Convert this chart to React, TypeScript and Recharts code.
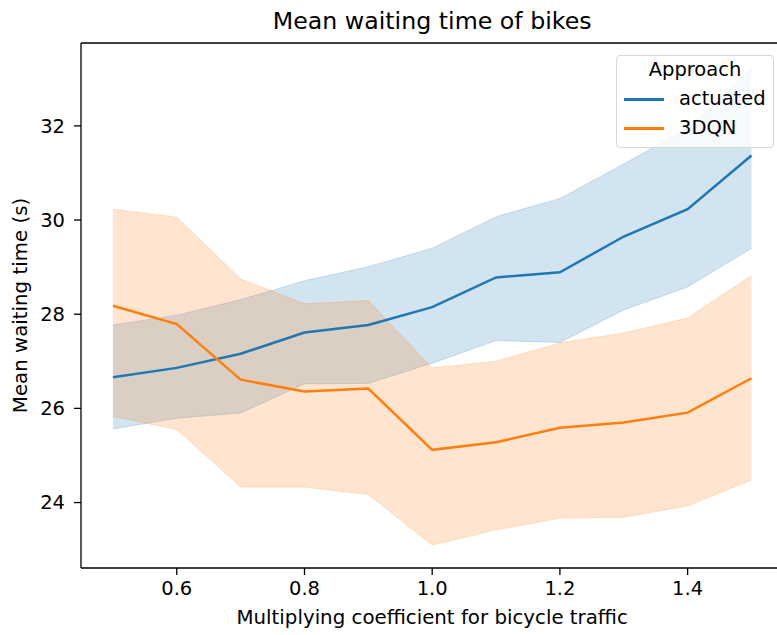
import { ComposedChart, Line, Area, XAxis, YAxis, Legend } from 'recharts';

const coefficients = [0.5, 0.6, 0.7, 0.8, 0.9, 1.0, 1.1, 1.2, 1.3, 1.4, 1.5];

const actuatedMean = [26.66, 26.86, 27.16, 27.61, 27.77, 28.15, 28.78, 28.89, 29.65, 30.23, 31.37];
const actuatedLow = [25.56, 25.79, 25.9, 26.52, 26.53, 26.96, 27.44, 27.4, 28.09, 28.58, 29.4];
const actuatedHigh = [27.77, 27.98, 28.31, 28.71, 29.01, 29.4, 30.07, 30.46, 31.19, 31.95, 33.23];

const dqnMean = [28.18, 27.79, 26.61, 26.36, 26.42, 25.12, 25.28, 25.59, 25.7, 25.91, 26.64];
const dqnLow = [25.83, 25.55, 24.33, 24.33, 24.17, 23.1, 23.42, 23.67, 23.69, 23.93, 24.48];
const dqnHigh = [30.23, 30.06, 28.75, 28.22, 28.29, 26.86, 27.0, 27.39, 27.6, 27.92, 28.82];

const xTicks = [0.6, 0.8, 1.0, 1.2, 1.4];
const yTicks = [24, 26, 28, 30, 32];

const series = [
  { name: 'actuated', color: '#1f77b4' },
  { name: '3DQN', color: '#ff7f0e' },
];

const data = coefficients.map((x, i) => ({
  x,
  actuated: actuatedMean[i],
  actuatedRange: [actuatedLow[i], actuatedHigh[i]],
  dqn: dqnMean[i],
  dqnRange: [dqnLow[i], dqnHigh[i]],
}));

const FONT = '"DejaVu Sans", sans-serif';
const Y_MIN = 22.61;
const Y_MAX = 33.76;

function LegendBox() {
  return (
    <div
      style={{
        position: 'relative',
        width: 158,
        height: 93,
        boxSizing: 'border-box',
        border: '1px solid #d6d6d6',
        borderRadius: 4,
        background: 'rgba(255,255,255,0.8)',
        fontFamily: FONT,
        fontSize: 19.5,
        color: '#000',
      }}
    >
      <div style={{ position: 'absolute', top: 3, left: 0, width: '100%', textAlign: 'center', lineHeight: '22px' }}>
        Approach
      </div>
      {series.map((s, i) => (
        <div key={s.name}>
          <div
            style={{
              position: 'absolute',
              left: 7,
              top: 43 + i * 29 - 1,
              width: 40,
              height: 2.5,
              background: s.color,
            }}
          />
          <div style={{ position: 'absolute', left: 62, top: 32 + i * 29, lineHeight: '22px' }}>{s.name}</div>
        </div>
      ))}
    </div>
  );
}

export default function App() {
  return (
    <div style={{ width: 777, height: 635, overflow: 'hidden', position: 'absolute', left: 0, top: 0, background: '#fff' }}>
      <ComposedChart
        width={790}
        height={635}
        data={data}
        margin={{ top: 0, right: 6.6, left: 0, bottom: 0 }}
        style={{ fontFamily: FONT }}
      >
        <XAxis
          xAxisId="top"
          orientation="top"
          dataKey="x"
          type="number"
          domain={[0.45, 1.55]}
          height={43}
          tick={false}
          tickLine={false}
          axisLine={{ stroke: '#000', strokeWidth: 1.3 }}
          label={{ value: 'Mean waiting time of bikes', position: 'insideTop', offset: 12, fill: '#000', fontSize: 23.7 }}
        />
        <XAxis
          dataKey="x"
          type="number"
          domain={[0.45, 1.55]}
          ticks={xTicks}
          tickFormatter={(v: number) => v.toFixed(1)}
          height={67}
          tickSize={7}
          tickMargin={6}
          tick={{ fill: '#000', fontSize: 19.5 }}
          tickLine={{ stroke: '#000', strokeWidth: 1.3 }}
          axisLine={{ stroke: '#000', strokeWidth: 1.3 }}
          label={{ value: 'Multiplying coefficient for bicycle traffic', position: 'insideBottom', offset: 11, fill: '#000', fontSize: 19.8 }}
        />
        <YAxis
          type="number"
          domain={[Y_MIN, Y_MAX]}
          ticks={yTicks}
          width={81}
          tickSize={7}
          tickMargin={9}
          tick={{ fill: '#000', fontSize: 19.5 }}
          tickLine={{ stroke: '#000', strokeWidth: 1.3 }}
          axisLine={{ stroke: '#000', strokeWidth: 1.3 }}
          label={{
            value: 'Mean waiting time (s)',
            angle: -90,
            position: 'insideLeft',
            offset: 20,
            fill: '#000',
            fontSize: 19.8,
            style: { textAnchor: 'middle' },
          }}
        />
        <Line
          dataKey="actuated"
          type="linear"
          stroke="#1f77b4"
          strokeWidth={2.5}
          dot={false}
          activeDot={false}
          isAnimationActive={false}
        />
        <Area
          dataKey="actuatedRange"
          type="linear"
          fill="#1f77b4"
          fillOpacity={0.2}
          stroke="#1f77b4"
          strokeOpacity={0.2}
          strokeWidth={1}
          activeDot={false}
          isAnimationActive={false}
        />
        <Line
          dataKey="dqn"
          type="linear"
          stroke="#ff7f0e"
          strokeWidth={2.5}
          dot={false}
          activeDot={false}
          isAnimationActive={false}
        />
        <Area
          dataKey="dqnRange"
          type="linear"
          fill="#ff7f0e"
          fillOpacity={0.2}
          stroke="#ff7f0e"
          strokeOpacity={0.2}
          strokeWidth={1}
          activeDot={false}
          isAnimationActive={false}
        />
        <Legend
          layout="horizontal"
          verticalAlign="middle"
          align="center"
          content={() => <LegendBox />}
          wrapperStyle={{ position: 'absolute', top: 55, left: 616, width: 158, height: 93 }}
        />
      </ComposedChart>
    </div>
  );
}
